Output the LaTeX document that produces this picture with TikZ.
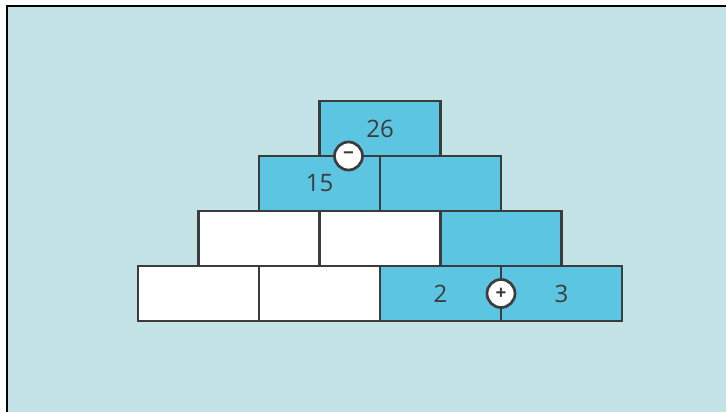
\documentclass[tikz,border=0pt]{standalone}
\usepackage{fontspec}
\setmainfont{Open Sans}
\usetikzlibrary{positioning}
\definecolor{bggrey}{HTML}{C4E3E6}
\definecolor{brickblue}{HTML}{5BC5E2}
\definecolor{linegrey}{HTML}{3C3C3C}
\tikzset{
  brick/.style={draw=linegrey, line width=2.7pt, minimum width=121pt, minimum height=55pt,
    inner sep=0pt, outer sep=0pt, text=linegrey, font=\fontsize{24}{24}\selectfont},
  white brick/.style={brick, fill=white},
  blue brick/.style={brick, fill=brickblue},
  sign/.style={circle, draw=linegrey, fill=white, line width=2.7pt, minimum size=28pt,
    inner sep=0pt, text=linegrey, font=\fontsize{19}{19}\selectfont\bfseries},
}

\begin{document}
\begin{tikzpicture}[x=1pt, y=-1pt]
    \useasboundingbox (0,0) rectangle (726,412);
    \fill[bggrey] (7,6) rectangle (726,412);
    \draw[line width=2pt, line cap=rect] (7,412) -- (7,6) -- (726,6);
    % bottom row
    \node[white brick] (b1) at (198.5,293.5) {};
    \node[white brick] (b2) [right=0pt of b1] {};
    \node[blue brick]  (b3) [right=0pt of b2] {2};
    \node[blue brick]  (b4) [right=0pt of b3] {3};
    % third row
    \node[white brick] (m1) [above=0pt of b1.north east] {};
    \node[white brick] (m2) [right=0pt of m1] {};
    \node[blue brick]  (m3) [right=0pt of m2] {};
    % second row
    \node[blue brick]  (s1) [above=0pt of m1.north east] {15};
    \node[blue brick]  (s2) [right=0pt of s1] {};
    % top
    \node[blue brick]  (t) [above=0pt of s1.north east] {26};
    % operations
    \node[sign] (minus) at ([xshift=29pt]t.south west) {−};
    \node[sign] (plus) at (b3.east) {+};
\end{tikzpicture}
\end{document}
